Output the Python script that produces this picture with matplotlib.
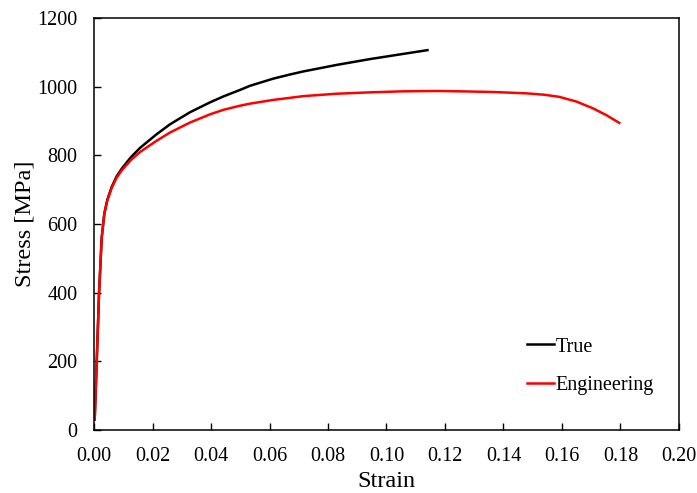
import numpy as np
import matplotlib.pyplot as plt

plt.rcParams['font.family'] = ['Liberation Serif', 'DejaVu Serif']

# engineering stress-strain
eng_strain = [0.0002, 0.0009, 0.0017, 0.0026, 0.0035, 0.0045, 0.006, 0.0077,
              0.0095, 0.0125, 0.0157, 0.0214, 0.026, 0.0328, 0.0397, 0.0442,
              0.0499, 0.0533, 0.0613, 0.067, 0.0716, 0.083, 0.0944, 0.1057,
              0.117, 0.125, 0.1365, 0.148, 0.154, 0.159, 0.165, 0.1707,
              0.1753, 0.1796]
eng_stress = [30, 200, 400, 560, 630, 668, 705, 735,
              757, 786, 810, 843, 867, 896, 920, 933,
              945, 951, 962, 968, 973, 980, 984, 987,
              988, 987, 985, 981, 977, 971, 957, 937,
              917, 895]

# true stress-strain
true_strain = [0.0002, 0.0009, 0.0017, 0.0026, 0.0035, 0.0045, 0.006, 0.0077,
               0.0095, 0.0125, 0.0157, 0.0214, 0.026, 0.0328, 0.0397, 0.0442,
               0.0499, 0.0533, 0.0613, 0.067, 0.0716, 0.083, 0.0944, 0.1057,
               0.114]
true_stress = [30, 200, 400, 560, 631, 670, 708, 739,
               762, 794, 822, 862, 891, 926, 955, 972,
               991, 1003, 1024, 1036, 1045, 1064, 1081, 1096,
               1107]

fig = plt.figure(figsize=(6.97, 4.93), dpi=100)
ax = fig.add_axes([0.135, 0.128, 0.839, 0.835])

ax.plot(true_strain, true_stress, color='black', lw=1.8, label='True')
ax.plot(eng_strain, eng_stress, color='#ff0000', lw=1.8, label='Engineering')

ax.set_xlim(0, 0.20)
ax.set_ylim(0, 1200)
ax.set_xticks(np.arange(0, 0.201, 0.02))
ax.set_xticklabels(['%.2f' % v for v in np.arange(0, 0.201, 0.02)])
ax.set_yticks(np.arange(0, 1201, 200))
ax.tick_params(direction='in', length=5, width=1, labelsize=14.5, pad=12)
for s in ax.spines.values():
    s.set_linewidth(1.1)

ax.set_xlabel('Strain', fontsize=17.5, labelpad=4)
ax.set_ylabel('Stress [MPa]', fontsize=17.5, labelpad=1)

ax.legend(loc='center left', bbox_to_anchor=(0.71, 0.155), frameon=False,
          fontsize=14.5, handlelength=1.3, handletextpad=0.1, labelspacing=0.95)

fig.savefig('out.png', dpi=100)
